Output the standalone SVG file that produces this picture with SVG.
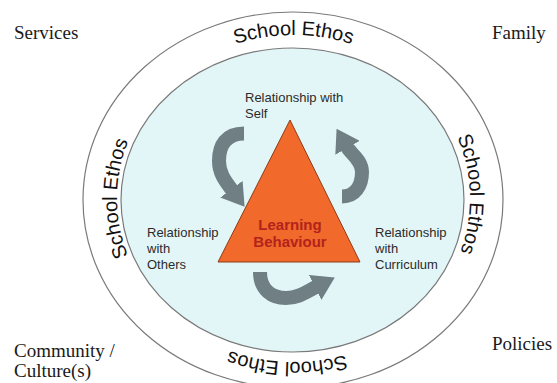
<svg xmlns="http://www.w3.org/2000/svg" width="557" height="383" viewBox="0 0 557 383">
  <style>
    .ctx { font-family: "Liberation Serif", "Times New Roman", serif; font-size: 19px; fill: #1a1a1a; }
    .lbl { font-family: "Liberation Sans", Arial, sans-serif; font-size: 13px; fill: #2b2b2b; }
    .ring { font-family: "Liberation Sans", Arial, sans-serif; font-size: 20px; fill: #111; }
    .core { font-family: "Liberation Sans", Arial, sans-serif; font-size: 15px; font-weight: bold; fill: #b3231c; text-anchor: middle; }
    .band { fill: none; stroke: #6f7f84; stroke-width: 14; stroke-linecap: butt; marker-end: url(#head); }
  </style>
  <defs>
    <marker id="head" viewBox="0 0 22 28" refX="1" refY="14" markerWidth="22" markerHeight="28" markerUnits="userSpaceOnUse" orient="auto">
      <path d="M0,0 L22,14 L0,28 z" fill="#6f7f84"/>
    </marker>
    <path id="ringPath" d="M 117 198.5 A 176.5 163.5 0 1 1 470 198.5 A 176.5 163.5 0 1 1 117 198.5 A 176.5 163.5 0 1 1 470 198.5 A 176.5 163.5 0 1 1 117 198.5"/>
  </defs>
  <rect width="557" height="383" fill="#ffffff"/>

  <g id="outer-ring">
    <ellipse cx="293" cy="200" rx="210" ry="188" fill="#ffffff" stroke="#7a7a7a" stroke-width="1.2"/>
  </g>
  <g id="inner-circle">
    <ellipse cx="292.5" cy="200" rx="171.5" ry="152" fill="#e3f6f7" stroke="#7a7a7a" stroke-width="1.2"/>
  </g>

  <g id="school-ethos">
    <text class="ring" text-anchor="middle"><textPath href="#ringPath" startOffset="12.5%">School Ethos</textPath></text>
    <text class="ring" text-anchor="middle"><textPath href="#ringPath" startOffset="24.8%">School Ethos</textPath></text>
    <text class="ring" text-anchor="middle"><textPath href="#ringPath" startOffset="37.8%">School Ethos</textPath></text>
    <text class="ring" text-anchor="middle"><textPath href="#ringPath" startOffset="50%">School Ethos</textPath></text>
  </g>

  <g id="services"><text class="ctx" x="14" y="39">Services</text></g>
  <g id="family"><text class="ctx" x="492" y="39">Family</text></g>
  <g id="community"><text class="ctx" x="14" y="357">Community /</text><text class="ctx" x="14" y="377">Culture(s)</text></g>
  <g id="policies"><text class="ctx" x="492" y="350">Policies</text></g>

  <g id="connectors">
    <path class="band" d="M 244 133.5 C 226 133.5, 219 145, 219 161 C 219 174, 226 182, 232 190"/>
    <path class="band" d="M 342 196.5 C 355 196.5, 362 186, 362 172 C 362 160, 351 154, 347 147"/>
    <path class="band" d="M 260 272 C 260 290, 272 298, 286 298 C 298 298, 306 292, 316 287"/>
  </g>

  <g id="learning-behaviour">
    <polygon points="290,120 218,262 360,262" fill="#f1692b" stroke="#8a3d18" stroke-width="1"/>
    <text class="core" x="290" y="230">Learning</text>
    <text class="core" x="290" y="247">Behaviour</text>
  </g>

  <g id="rel-self">
    <text class="lbl" x="245" y="102">Relationship with</text>
    <text class="lbl" x="245" y="118">Self</text>
  </g>
  <g id="rel-others">
    <text class="lbl" x="147" y="237">Relationship</text>
    <text class="lbl" x="147" y="253">with</text>
    <text class="lbl" x="147" y="269">Others</text>
  </g>
  <g id="rel-curriculum">
    <text class="lbl" x="375" y="237">Relationship</text>
    <text class="lbl" x="375" y="253">with</text>
    <text class="lbl" x="375" y="269">Curriculum</text>
  </g>
</svg>
